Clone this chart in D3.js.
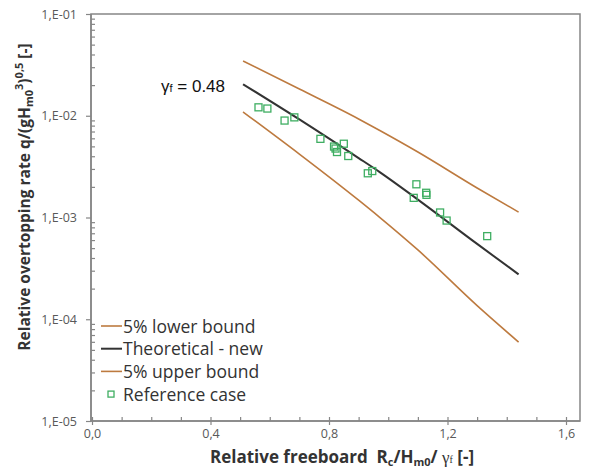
<!DOCTYPE html>
<html>
<head>
<meta charset="utf-8">
<script src="https://cdn.jsdelivr.net/npm/d3@7"></script>
<style>
  body { margin: 0; background: #fff; }
  svg { display: block; }
</style>
</head>
<body>
<div id="chart"></div>
<script>
const W = 597, H = 468;

// Tick values and labels
const xTicks = [0, 0.4, 0.8, 1.2, 1.6];
const xTickLabels = ["0,0", "0,4", "0,8", "1,2", "1,6"];
const yTicks = [1e-5, 1e-4, 1e-3, 1e-2, 1e-1];
const yTickLabels = ["1,E-05", "1,E-04", "1,E-03", "1,E-02", "1,E-01"];

// Curves (x = Rc/Hm0/gamma_f)
const curveX = [0.51, 0.7, 0.9, 0.97, 1.1, 1.3, 1.44];
const upperLine = [0.0345, 0.0183, 0.0093, 0.0072, 0.0044, 0.00195, 0.00113];   // "5% lower bound" (top brown)
const theoLine = [0.0204, 0.0092, 0.00384, 0.00281, 0.0015, 0.00055, 0.000276];
const lowerLine = [0.0109, 0.0042, 0.00148, 0.00101, 0.00048, 0.000136, 0.0000596]; // "5% upper bound"

// Reference case measurements
const refX = [0.562, 0.592, 0.650, 0.683, 0.771, 0.817, 0.822, 0.827, 0.850, 0.865,
              0.931, 0.946, 1.095, 1.086, 1.128, 1.129, 1.175, 1.197, 1.334];
const refQ = [0.0121, 0.01177, 0.00897, 0.00964, 0.00593, 0.00498, 0.00476, 0.00440, 0.00531, 0.00402,
              0.00272, 0.00286, 0.00212, 0.00156, 0.00175, 0.00167, 0.00112, 0.000933, 0.000656];

const brown = "#bd7a3f", dark = "#333333", green = "#3fae62", axisGray = "#868686", labelGray = "#595959";

const svg = d3.select("#chart").append("svg")
    .attr("width", W).attr("height", H);

const plotLeft = 91, plotTop = 14, plotBottom = 421, frameRight = 580;

const x = d3.scaleLinear().domain([0, 1.6]).range([92, 566]);
const y = d3.scaleLog().domain([1e-5, 1e-1]).range([plotBottom, plotTop]);

// Minor ticks
let xMinor = d3.range(0, 1.61, 0.1).filter(function(v) { return Math.abs(v / 0.4 - Math.round(v / 0.4)) > 1e-6; });
let yMinor = [];
[1e-5, 1e-4, 1e-3, 1e-2].forEach(function(d) {
    for (let k = 2; k <= 9; k++) yMinor.push(d * k);
});

// Plot frame
svg.append("rect")
    .attr("x", plotLeft).attr("y", plotTop)
    .attr("width", frameRight - plotLeft).attr("height", plotBottom - plotTop)
    .attr("fill", "none")
    .attr("stroke", axisGray)
    .attr("stroke-width", 1.5);

// Y axis: major outside, minor inside
svg.append("g")
    .attr("transform", `translate(${plotLeft},0)`)
    .call(d3.axisLeft(y).tickValues(yTicks)
        .tickFormat(function(d, i) { return yTickLabels[i]; })
        .tickSize(5).tickPadding(9));
svg.append("g")
    .attr("transform", `translate(${plotLeft},0)`)
    .call(d3.axisLeft(y).tickValues(yMinor).tickFormat("").tickSize(-4));

// X axis: major crossing, minor inside
svg.append("g")
    .attr("transform", `translate(0,${plotBottom})`)
    .call(d3.axisBottom(x).tickValues(xTicks)
        .tickFormat(function(d, i) { return xTickLabels[i]; })
        .tickSize(4).tickPadding(4));
svg.append("g")
    .attr("transform", `translate(0,${plotBottom})`)
    .call(d3.axisBottom(x).tickValues(xTicks).tickFormat("").tickSize(-4));
svg.append("g")
    .attr("transform", `translate(0,${plotBottom})`)
    .call(d3.axisBottom(x).tickValues(xMinor).tickFormat("").tickSize(-4));

svg.selectAll(".domain").remove();
svg.selectAll(".tick line").attr("stroke", axisGray).attr("stroke-width", 1.2);
svg.selectAll(".tick text")
    .attr("fill", labelGray)
    .style("font-family", "'Open Sans', sans-serif")
    .style("font-size", "12.5px");

// Axis lines on top of the frame
svg.append("line").attr("x1", plotLeft).attr("x2", plotLeft).attr("y1", plotTop).attr("y2", plotBottom)
    .attr("stroke", axisGray).attr("stroke-width", 1.5);
svg.append("line").attr("x1", plotLeft).attr("x2", frameRight).attr("y1", plotBottom).attr("y2", plotBottom)
    .attr("stroke", axisGray).attr("stroke-width", 1.5);

// Lines
let line = d3.line()
    .x(function(d) { return x(d[0]); })
    .y(function(d) { return y(d[1]); })
    .curve(d3.curveMonotoneX);

function drawLine(vals, color, width) {
    svg.append("path")
        .datum(curveX.map(function(v, i) { return [v, vals[i]]; }))
        .attr("d", line)
        .attr("fill", "none")
        .attr("stroke", color)
        .attr("stroke-width", width);
}
drawLine(upperLine, brown, 1.6);
drawLine(lowerLine, brown, 1.6);
drawLine(theoLine, dark, 2);

// Reference points
let sq = 7;
svg.append("g").selectAll("rect")
    .data(refX.map(function(v, i) { return {x: v, q: refQ[i]}; }))
    .enter().append("rect")
    .attr("x", function(d) { return x(d.x) - sq / 2; })
    .attr("y", function(d) { return y(d.q) - sq / 2; })
    .attr("width", sq).attr("height", sq)
    .attr("fill", "none")
    .attr("stroke", green)
    .attr("stroke-width", 1.3);

// gamma_f annotation
let gam = svg.append("text")
    .attr("x", 161).attr("y", 92)
    .style("font-family", "'Liberation Sans', Arial, sans-serif")
    .style("font-size", "17px")
    .attr("fill", "#111");
gam.append("tspan").text("γ");
gam.append("tspan").attr("font-size", "11px").text("f");
gam.append("tspan").text(" = 0.48");

// Legend
const legendItems = [
    {label: "5% lower bound", type: "line", color: brown},
    {label: "Theoretical - new", type: "line", color: dark},
    {label: "5% upper bound", type: "line", color: brown},
    {label: "Reference case", type: "square", color: green}
];
let legend = svg.append("g");
legendItems.forEach(function(d, i) {
    let ly = 326 + i * 22.7;
    if (d.type === "line") {
        legend.append("line")
            .attr("x1", 101).attr("x2", 122).attr("y1", ly).attr("y2", ly)
            .attr("stroke", d.color).attr("stroke-width", d.color === dark ? 2 : 1.6);
    } else {
        legend.append("rect")
            .attr("x", 111 - 3).attr("y", ly - 3).attr("width", 6).attr("height", 6)
            .attr("fill", "none").attr("stroke", d.color).attr("stroke-width", 1.3);
    }
    legend.append("text")
        .attr("x", 123).attr("y", ly + 6.5)
        .attr("fill", dark)
        .style("font-family", "'Open Sans', sans-serif")
        .style("font-size", "17.5px")
        .text(d.label);
});

// Y axis title
let yTitle = svg.append("text")
    .attr("transform", "translate(30,197) rotate(-90)")
    .attr("text-anchor", "middle")
    .attr("fill", dark)
    .style("font-family", "'Open Sans', sans-serif")
    .style("font-weight", "bold")
    .style("font-size", "15.5px");
yTitle.append("tspan").text("Relative overtopping rate q/(gH");
yTitle.append("tspan").attr("font-size", "11px").attr("dy", 3).text("m0");
yTitle.append("tspan").attr("font-size", "11px").attr("dy", -10).text("3");
yTitle.append("tspan").attr("dy", 7).text(")");
yTitle.append("tspan").attr("font-size", "11px").attr("dy", -7).text("0,5");
yTitle.append("tspan").attr("dy", 7).text(" [-]");

// X axis title
let xTitle = svg.append("text")
    .attr("x", 342).attr("y", 463)
    .attr("text-anchor", "middle")
    .attr("fill", dark)
    .style("font-family", "'Open Sans', sans-serif")
    .style("font-weight", "bold")
    .style("font-size", "17px");
xTitle.append("tspan").text("Relative freeboard\u00a0 R");
xTitle.append("tspan").attr("font-size", "11px").attr("dy", 3).text("c");
xTitle.append("tspan").attr("dy", -3).text("/H");
xTitle.append("tspan").attr("font-size", "11px").attr("dy", 3).text("m0");
xTitle.append("tspan").attr("dy", -3).text("/ ");
xTitle.append("tspan").style("font-family", "'Liberation Serif', serif").style("font-weight", "normal").text("γ");
xTitle.append("tspan").style("font-family", "'Liberation Serif', serif").style("font-weight", "normal").attr("font-size", "10px").text("f");
xTitle.append("tspan").text(" [-]");
</script>
</body>
</html>
